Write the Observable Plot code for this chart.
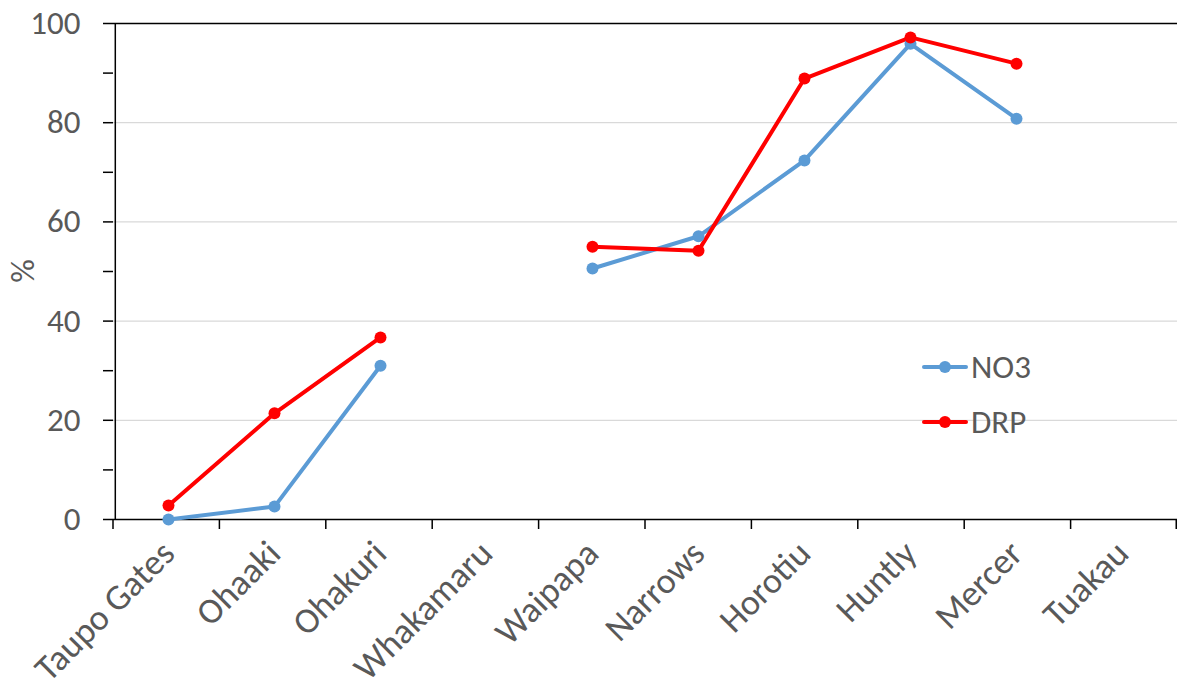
<!DOCTYPE html>
<html>
<head>
<meta charset="utf-8">
<script src="https://cdn.jsdelivr.net/npm/d3@7"></script>
<script src="https://cdn.jsdelivr.net/npm/@observablehq/plot@0.6"></script>
<style>
  html, body { margin: 0; padding: 0; background: #fff; }
  #wrap { position: relative; width: 1177px; height: 689px; font-family: Carlito, Calibri, Lato, sans-serif; }
  .legend { position: absolute; left: 922px; font-size: 33px; color: #595959; display: flex; align-items: center; }
  .legend svg { margin-right: 3px; }
</style>
</head>
<body>
<div id="wrap"></div>
<script>
const sites = ["Taupo Gates", "Ohaaki", "Ohakuri", "Whakamaru", "Waipapa", "Narrows", "Horotiu", "Huntly", "Mercer", "Tuakau"];
const no3 = [0, 2.6, 31.0, null, 50.6, 57.1, 72.4, 95.9, 80.8, null];
const drp = [2.8, 21.4, 36.7, null, 55.0, 54.2, 88.9, 97.2, 91.9, null];
const seriesNames = ["NO3", "DRP"];
const seriesColors = ["#5b9bd5", "#ff0000"];
const yTicks = [0, 20, 40, 60, 80, 100];
const yMinor = [10, 30, 50, 70, 90];

const data = [];
[no3, drp].forEach((vals, si) => sites.forEach((s, i) => data.push({site: s, value: vals[i], series: seriesNames[si]})));

const W = 1177, H = 689;
const mL = 113, mR = 0, mT = 23, mB = 170;
const step = (W - mL - mR) / sites.length;

const chart = Plot.plot({
  width: W, height: H,
  marginLeft: mL, marginRight: mR, marginTop: mT, marginBottom: mB,
  style: {fontFamily: "Carlito, Calibri, Lato, sans-serif", fontSize: "33px", color: "#595959", background: "#fff"},
  x: {type: "point", domain: sites, padding: 0.5},
  y: {domain: [0, 100]},
  color: {domain: seriesNames, range: seriesColors},
  marks: [
    Plot.ruleY(yTicks.filter(d => d > 0 && d < 100), {stroke: "#d9d9d9", strokeWidth: 1.3}),
    Plot.ruleY([100], {stroke: "#000", strokeWidth: 1.5}),
    Plot.ruleY([0], {stroke: "#000", strokeWidth: 1.5}),
    Plot.ruleX([sites[0]], {dx: -step / 2, stroke: "#000", strokeWidth: 1.5}),
    Plot.axisY({ticks: yTicks, tickSize: 10, tickPadding: 23, tickFormat: d => d, fontSize: 33, fill: "#595959", stroke: "#000", strokeWidth: 1.5, label: null}),
    Plot.axisY({ticks: yMinor, tickSize: 10, tickFormat: () => "", stroke: "#000", strokeWidth: 1.5, label: null}),
    Plot.axisX({tickSize: 0, tickRotate: -45, tickPadding: 28, fontSize: 36, fill: "#595959", label: null}),
    Plot.line(data, {x: "site", y: "value", z: "series", stroke: "series", strokeWidth: 4, strokeLinejoin: "round", strokeLinecap: "round"}),
    Plot.dot(data, {x: "site", y: "value", fill: "series", r: 6, stroke: null})
  ]
});
document.getElementById("wrap").appendChild(chart);

// boundary tick marks below x-axis
const svg = d3.select(chart);
const xs = sites.map((s, i) => mL + i * step).concat([W - 0.75]);
svg.append("g").selectAll("line").data(xs).join("line")
  .attr("x1", d => d).attr("x2", d => d)
  .attr("y1", H - mB).attr("y2", H - mB + 10)
  .attr("stroke", "#000").attr("stroke-width", 1.5);

// y label
svg.append("text")
  .attr("transform", `translate(34, ${mT + (H - mT - mB) / 2}) rotate(-90)`)
  .attr("text-anchor", "middle").attr("fill", "#595959")
  .attr("font-size", 33).text("%");

// legend
const wrap = document.getElementById("wrap");
seriesNames.forEach((name, i) => {
  const div = document.createElement("div");
  div.className = "legend";
  div.style.top = (347 + i * 55) + "px";
  div.innerHTML = `<svg width="46" height="40"><line x1="2" x2="44" y1="20" y2="20" stroke="${seriesColors[i]}" stroke-width="4" stroke-linecap="round"/><circle cx="23" cy="20" r="6" fill="${seriesColors[i]}"/></svg><span>${name}</span>`;
  wrap.appendChild(div);
});
</script>
</body>
</html>
